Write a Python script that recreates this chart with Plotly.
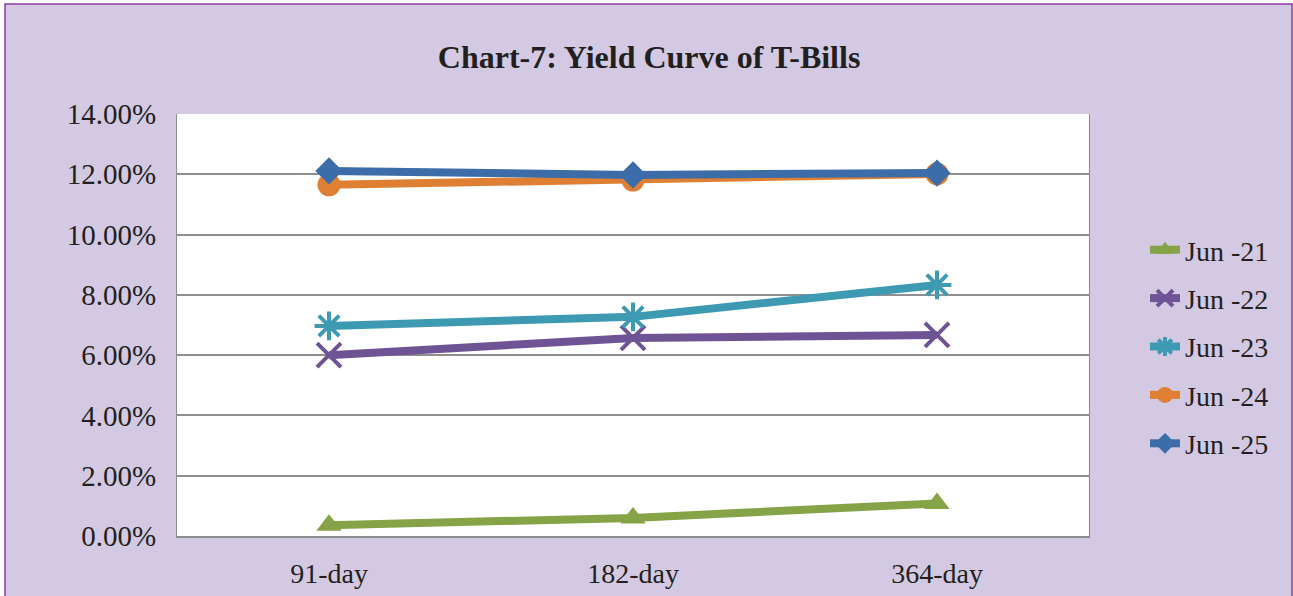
import plotly.graph_objects as go

# Tenors on the x axis
tenors = ["91-day", "182-day", "364-day"]

# Yields (as fractions) for each June
jun21 = [0.0036, 0.0060, 0.0108]
jun22 = [0.0600, 0.0657, 0.0667]
jun23 = [0.0697, 0.0727, 0.0833]
jun24 = [0.1165, 0.1181, 0.1201]
jun25 = [0.1211, 0.1198, 0.1204]

series_names = ["Jun -21", "Jun -22", "Jun -23", "Jun -24", "Jun -25"]
series_values = [jun21, jun22, jun23, jun24, jun25]

y_ticks = [0, 0.02, 0.04, 0.06, 0.08, 0.10, 0.12, 0.14]

styles = [
    dict(color="#86A347", symbol="triangle-up", size=22, lw=0),
    dict(color="#6E5494", symbol="x-thin", size=24, lw=4),
    dict(color="#3E9AB2", symbol="asterisk", size=24, lw=4),
    dict(color="#DF7F34", symbol="circle", size=23, lw=0),
    dict(color="#3D6DA8", symbol="diamond", size=21, lw=0),
]

FONT = "Liberation Serif, Times New Roman, serif"

fig = go.Figure()
for i, (name, vals) in enumerate(zip(series_names, series_values)):
    st = styles[i]
    fig.add_trace(go.Scatter(
        x=tenors, y=vals, name=name, mode="lines+markers",
        legendgroup=f"g{i}",
        line=dict(color=st["color"], width=8),
        marker=dict(symbol=st["symbol"], size=st["size"], color=st["color"],
                    line=dict(color=st["color"], width=st["lw"])),
    ))

W, H = 1293, 596
L, R, T, B = 177, 1089, 114, 536
pw, ph = R - L, B - T

def px_x(x):
    return (x - L) / pw

def px_y(y):
    return (B - y) / ph

# outer lavender panel with purple border, then the white plot area
fig.add_shape(type="rect", xref="paper", yref="paper",
              x0=px_x(5), x1=px_x(1292), y0=px_y(610), y1=px_y(4),
              fillcolor="#D3C9E2", line=dict(color="#8E3AA8", width=1.5),
              layer="below")
fig.add_shape(type="rect", xref="paper", yref="paper",
              x0=0, x1=1, y0=0, y1=1,
              fillcolor="white", line=dict(width=0), layer="below")

fig.update_layout(
    width=W, height=H,
    margin=dict(l=L, r=W - R, t=T, b=H - B, autoexpand=False),
    paper_bgcolor="white",
    plot_bgcolor="rgba(0,0,0,0)",
    font=dict(family=FONT, size=28, color="#231F20"),
    title=dict(text="<b>Chart-7: Yield Curve of T-Bills</b>",
               x=0.502, xref="container", xanchor="center",
               y=1 - 57 / H, yref="container", yanchor="middle",
               font=dict(family=FONT, size=32, color="#231F20")),
    showlegend=True,
    legend=dict(x=1145 / W, xref="container", xanchor="left",
                y=1 - 225 / H, yref="container", yanchor="top",
                bgcolor="rgba(0,0,0,0)", tracegroupgap=9,
                font=dict(family=FONT, size=28, color="#231F20")),
)

fig.update_xaxes(
    type="category", range=[-0.5, 2.5], automargin=False,
    showgrid=False, showline=True, linecolor="#8C8C8C", linewidth=2,
    ticks="", ticklabelstandoff=11, zeroline=False,
    tickfont=dict(size=28),
)
fig.update_yaxes(
    range=[0, 0.14], tickvals=y_ticks, tickformat=".2%", automargin=False,
    showgrid=True, gridcolor="#8F8F8F", gridwidth=1.5,
    showline=True, linecolor="#8C8C8C", linewidth=1, mirror=True,
    ticks="", ticklabelstandoff=14, zeroline=False,
    tickfont=dict(size=29),
)

fig.write_html("out.html")
